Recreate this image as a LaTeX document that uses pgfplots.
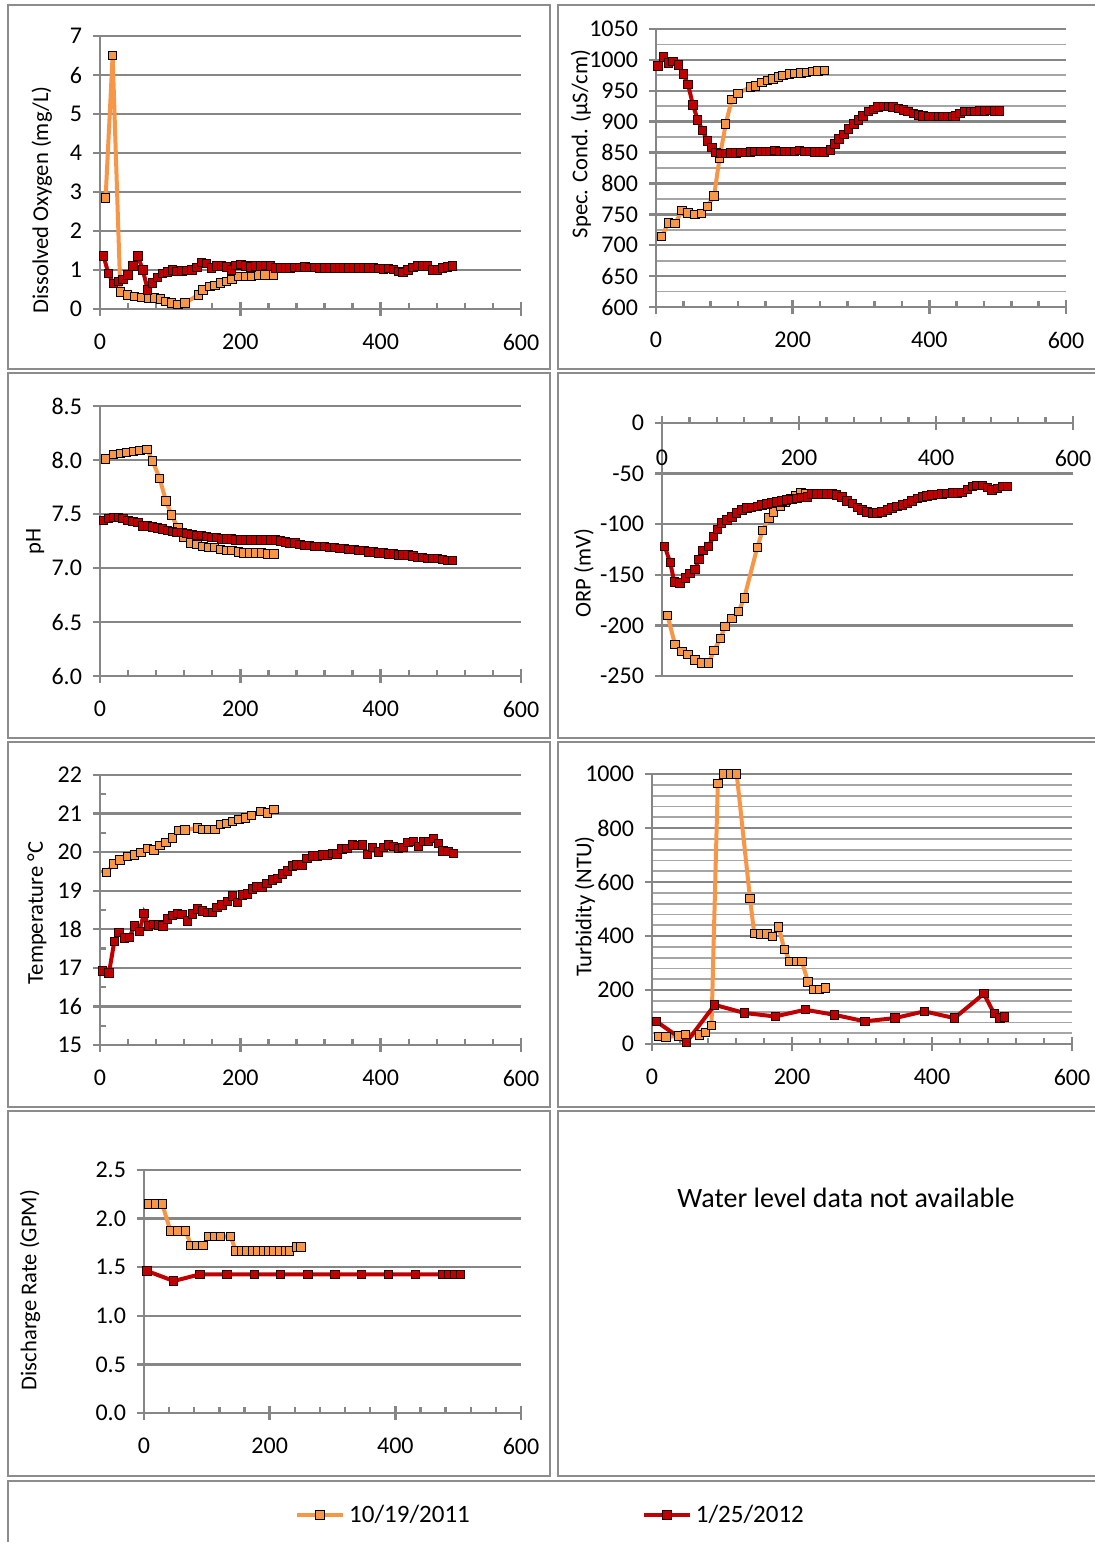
\documentclass[border=0pt]{standalone}
\usepackage{pgfplots}
\pgfplotsset{compat=1.18}
\usepackage{fontspec}
\setmainfont{Carlito}
\definecolor{orng}{RGB}{247,150,70}
\definecolor{redc}{RGB}{192,0,0}
\definecolor{axgray}{RGB}{134,134,134}
\definecolor{minorgray}{RGB}{165,165,165}
\definecolor{bordergray}{RGB}{140,140,140}
\pgfplotsset{
 panel/.style={
   scale only axis, anchor=south west, clip=false,
   xmin=0, xmax=600, xtick={0,200,400,600}, minor x tick num=4,
   axis line style={draw=axgray, line width=1.2pt},
   x axis line style={-}, y axis line style={-},
   tick style={draw=axgray, line width=1.2pt},
   major tick length=7pt, minor tick length=3pt,
   xtick align=center, ytick align=center,
   minor x tick style={yshift=1.5pt},
   minor y tick style={xshift=1.5pt},
   ymajorgrids, major grid style={draw=axgray, line width=1.2pt},
   minor grid style={draw=minorgray, line width=0.9pt},
   tick label style={font=\fontsize{12}{14}\selectfont, text=black},
   /pgf/number format/assume math mode=true,
   /pgf/number format/set thousands separator={},
   yticklabel style={xshift=-2pt},
   xticklabel style={yshift=-5.5pt},
   every axis y label/.style={rotate=90, anchor=center, font=\fontsize{11.3}{13}\selectfont},
 },
 orangeS/.style={color=orng, line width=2pt, mark=square*, mark size=2.1pt, mark options={fill=orng, draw=black, line width=0.5pt}},
 redS/.style={color=redc, line width=2pt, mark=square*, mark size=2.1pt, mark options={fill=redc, draw=black!85!red, line width=0.5pt}},
}
\begin{document}
\begin{tikzpicture}
\useasboundingbox (0,0) rectangle (547pt,-771pt);
\fill[white] (0,0) rectangle (547pt,-771pt);
\begin{scope}[draw=bordergray, line width=1.2pt]
\draw (4pt,-2.5pt) rectangle (275pt,-184.5pt);
\draw (279pt,-2.5pt) rectangle (549pt,-184.5pt);
\draw (4pt,-186.5pt) rectangle (275pt,-369pt);
\draw (279pt,-186.5pt) rectangle (549pt,-369pt);
\draw (4pt,-371pt) rectangle (275pt,-553.5pt);
\draw (279pt,-371pt) rectangle (549pt,-553.5pt);
\draw (4pt,-555.5pt) rectangle (275pt,-738pt);
\draw (279pt,-555.5pt) rectangle (549pt,-738pt);
\draw (4pt,-740.5pt) rectangle (549pt,-775pt);
\end{scope}
\node[font=\fontsize{14}{16}\selectfont] at (423pt,-599pt) {Water level data not available};

% Dissolved oxygen
\begin{axis}[panel, axis x line*=bottom, axis y line*=left, at={(50pt,-154.5pt)}, width=210.5pt, height=136.5pt,
  ymin=0, ymax=7, ytick={0,1,...,7},
  ylabel={Dissolved Oxygen (mg/L)}, ylabel style={at={(axis description cs:-0.138,0.40)}}]
\addplot[orangeS] coordinates {(8,2.85)(18,6.5)(29,0.44)(39,0.36)(49,0.32)(59,0.29)(69,0.27)(78,0.28)(86,0.26)(93,0.2)(102,0.15)(111,0.12)(121,0.15)(140,0.36)(147,0.49)(157,0.57)(164,0.61)(172,0.67)(180,0.7)(188,0.76)(197,0.83)(207,0.84)(216,0.84)(226,0.87)(235,0.87)(247,0.87)};
\addplot[redS] coordinates {(5,1.36)(12,0.91)(19,0.66)(26,0.70)(33,0.76)(40,0.87)(47,1.10)(54,1.36)(61,1.00)(68,0.49)(75,0.67)(82,0.81)(89,0.91)(96,0.95)(103,1.00)(110,0.96)(117,0.97)(124,0.98)(131,1.00)(138,1.06)(145,1.19)(152,1.17)(159,1.05)(166,1.10)(173,1.10)(180,1.08)(187,1.00)(194,1.12)(201,1.14)(208,1.10)(215,1.08)(222,1.10)(229,1.10)(236,1.12)(243,1.10)(250,1.05)(257,1.05)(264,1.05)(271,1.05)(278,1.06)(285,1.07)(292,1.08)(299,1.07)(306,1.06)(313,1.05)(320,1.05)(327,1.05)(334,1.05)(341,1.05)(348,1.05)(355,1.05)(362,1.05)(369,1.05)(376,1.05)(383,1.05)(390,1.05)(397,1.04)(404,1.03)(411,1.04)(418,1.02)(425,0.96)(432,0.93)(439,1.00)(446,1.07)(453,1.10)(460,1.10)(467,1.10)(474,1.00)(481,1.00)(488,1.05)(495,1.08)(502,1.10)};
\end{axis}

% Specific conductance
\begin{axis}[panel, axis x line*=bottom, axis y line*=left, at={(328pt,-153.5pt)}, width=205pt, height=139pt,
  ymin=600, ymax=1050, ytick={600,650,...,1050}, minor y tick num=1, yminorgrids,
  minor y tick style={draw=none},
  ylabel={Spec. Cond. (µS/cm)}, ylabel style={at={(axis description cs:-0.183,0.586)}}]
\addplot[orangeS] coordinates {(8,714)(18,736)(28,735)(38,756)(47,752)(57,750)(67,751)(75,763)(85,780)(93,841)(102,896)(111,936)(120,946)(138,956)(146,958)(155,963)(163,967)(171,969)(179,972)(186,975)(195,977)(203,978)(212,979)(220,980)(229,981)(237,982)(247,983)};
\addplot[redS] coordinates {(3,990)(11,1005)(18,995)(25,997)(33,992)(40,977)(47,960)(54,927)(61,903)(68,886)(75,869)(82,858)(88,850)(95,848)(102,848)(109,849)(117,849)(124,850)(131,850)(138,851)(145,852)(153,852)(160,852)(167,852)(174,853)(181,852)(189,852)(196,852)(203,852)(210,853)(217,852)(225,852)(232,851)(239,851)(246,851)(255,854)(262,864)(268,872)(275,879)(282,888)(290,896)(296,903)(303,909)(311,916)(318,920)(325,924)(333,925)(340,925)(347,924)(355,921)(362,919)(369,916)(377,913)(384,911)(391,909)(399,908)(406,908)(413,908)(420,908)(427,908)(434,908)(438,909)(445,913)(452,916)(460,916)(467,916)(474,917)(481,917)(488,918)(496,917)(503,917)};
\end{axis}

% pH
\begin{axis}[panel, axis x line*=bottom, axis y line*=left, at={(50pt,-338pt)}, width=210.5pt, height=135pt,
  ymin=6, ymax=8.5, ytick={6,6.5,...,8.5},
  yticklabel style={/pgf/number format/.cd, fixed, fixed zerofill, precision=1},
  ylabel={pH}, ylabel style={at={(axis description cs:-0.154,0.497)}}]
\addplot[orangeS] coordinates {(7.5,8.01)(19,8.05)(29,8.06)(37.5,8.07)(48,8.08)(57,8.09)(67,8.10)(75,7.99)(85,7.83)(94,7.62)(102,7.49)(111,7.37)(120,7.28)(129,7.23)(138,7.22)(147,7.20)(155,7.19)(163,7.19)(172,7.17)(181,7.16)(188,7.16)(197,7.15)(205,7.14)(213,7.14)(222,7.14)(230,7.14)(239,7.13)(248,7.13)};
\addplot[redS] coordinates {(5,7.44)(12,7.46)(19,7.47)(26,7.47)(33,7.46)(40,7.44)(47,7.43)(54,7.42)(61,7.39)(68,7.39)(75,7.38)(82,7.37)(89,7.36)(96,7.35)(103,7.34)(110,7.33)(117,7.33)(124,7.32)(131,7.31)(138,7.30)(145,7.30)(152,7.29)(159,7.28)(166,7.28)(173,7.27)(180,7.27)(187,7.27)(194,7.26)(201,7.26)(208,7.26)(215,7.26)(222,7.26)(229,7.26)(236,7.26)(243,7.26)(250,7.26)(257,7.25)(264,7.24)(271,7.23)(278,7.23)(285,7.22)(292,7.21)(299,7.21)(306,7.20)(313,7.20)(320,7.20)(327,7.19)(334,7.19)(341,7.18)(348,7.18)(355,7.17)(362,7.17)(369,7.16)(376,7.16)(383,7.15)(390,7.15)(397,7.14)(404,7.14)(411,7.13)(418,7.13)(425,7.12)(432,7.12)(439,7.12)(446,7.11)(453,7.10)(460,7.10)(467,7.09)(474,7.09)(481,7.09)(488,7.08)(495,7.07)(502,7.07)};
\end{axis}

% ORP
\begin{axis}[panel, axis x line*=top, axis y line*=left, xticklabel pos=upper, at={(331pt,-338pt)}, width=205.5pt, height=126.5pt,
  ymin=-250, ymax=0, ytick={-250,-200,...,0},
  xticklabel style={anchor=north, yshift=-8pt},
  ylabel={ORP (mV)}, ylabel style={at={(axis description cs:-0.19,0.407)}}]
\addplot[orangeS] coordinates {(8,-190)(19,-219)(29,-226)(38,-229)(48,-234)(58,-237)(68,-237)(76,-225)(85,-213)(92,-201)(102,-193)(112,-186)(120,-173)(139,-123)(147,-106)(156,-94)(163,-88)(173,-82)(180,-78)(188,-75)(195,-72)(203,-69)(210,-70)};
\addplot[redS] coordinates {(4,-122)(12,-138)(18,-157)(26,-158)(34,-153)(41,-149)(48,-145)(54,-135)(60,-126)(68,-122)(75,-112)(81,-105)(87,-99)(95,-96)(102,-93)(109,-89)(117,-86)(124,-84)(131,-83.5)(139,-82.7)(146,-81)(153,-80)(160,-79)(168,-78)(175,-77)(182,-76)(190,-75.5)(197,-74.5)(204,-73.6)(212,-73)(219,-70)(226,-70)(233,-70)(241,-70)(248,-70)(255,-71)(263,-73)(270,-77)(278,-79.4)(285,-83.5)(292,-86)(299,-87.8)(307,-89)(314,-89)(321,-87.8)(329,-86)(336,-84)(343,-82.7)(351,-81)(358,-79.4)(365,-77)(373,-74.5)(380,-73)(387,-72)(394,-71)(402,-70.5)(409,-70)(416,-69.5)(424,-69)(431,-69)(438,-68.5)(446,-65.5)(453,-63)(460,-62)(468,-61.5)(475,-63.5)(482,-66)(490,-64.5)(497,-63)(504,-62.5)};
\end{axis}

% Temperature
\begin{axis}[panel, axis x line*=bottom, axis y line*=left, at={(50pt,-522.5pt)}, width=210.5pt, height=135pt,
  ymin=15, ymax=22, ytick={15,16,...,22}, minor y tick num=1,
  ylabel={Temperature °C}, ylabel style={at={(axis description cs:-0.15,0.489)}}]
\addplot[orangeS] coordinates {(9.5,19.47)(19,19.69)(28.5,19.80)(39,19.88)(49,19.93)(58.4,19.99)(68,20.10)(77,20.06)(85.5,20.17)(94,20.25)(103,20.37)(111.6,20.56)(121,20.57)(139,20.63)(147,20.59)(155,20.59)(164,20.59)(172,20.72)(180.5,20.75)(189,20.79)(198,20.85)(207,20.89)(216,20.95)(229.5,21.05)(239,21.01)(248,21.11)};
\addplot[redS] coordinates {(3.3,16.92)(12.8,16.87)(20.4,17.68)(27,17.92)(34.7,17.77)(41.8,17.78)(49,18.09)(56,17.94)(62.7,18.41)(69,18.09)(76,18.13)(83,18.11)(90,18.09)(96.4,18.27)(103.6,18.35)(110.7,18.41)(117,18.39)(125,18.21)(132,18.40)(139,18.53)(146,18.47)(153,18.44)(160,18.44)(167,18.56)(174,18.63)(182,18.72)(189,18.86)(196,18.70)(203,18.89)(210,18.91)(217,19.04)(224,19.10)(231,19.10)(238,19.19)(245.6,19.28)(252.7,19.32)(260,19.43)(267,19.51)(274,19.64)(281,19.67)(288,19.67)(295,19.84)(302.6,19.90)(310,19.90)(317,19.93)(324,19.93)(331,19.97)(338,19.95)(345,20.08)(352,20.10)(360,20.19)(367,20.17)(374,20.19)(381.5,19.94)(388.6,20.12)(397,20.00)(404,20.12)(411,20.19)(418,20.14)(425,20.10)(432,20.12)(439,20.25)(446.5,20.27)(453.6,20.14)(460.7,20.27)(468,20.27)(475,20.36)(482,20.23)(489,20.03)(496,20.01)(503.5,19.97)};
\end{axis}

% Turbidity
\begin{axis}[panel, axis x line*=bottom, axis y line*=left, at={(326pt,-522pt)}, width=210pt, height=135pt,
  ymin=0, ymax=1000, ytick={0,200,...,1000}, minor y tick num=4, yminorgrids,
  minor y tick style={draw=none},
  ylabel={Turbidity (NTU)}, ylabel style={at={(axis description cs:-0.16,0.509)}}]
\addplot[orangeS] coordinates {(9,28)(20,26)(38,30)(48,35)(68,33)(76,43)(85,68)(94,965)(103,1000)(112,1000)(121,1000)(140,540)(146,410)(155,408)(164,408)(172,398)(181,433)(189,351)(197,306)(206,306)(214,306)(223,229)(231,203)(239,201)(248,207)};
\addplot[redS] coordinates {(6,84)(49,6)(89.6,145)(132,115)(176,102)(219,127)(261,108)(304,84)(347,96)(389,121)(432,96)(474,186)(489,112)(497,96)(503.5,100)};
\end{axis}

% Discharge
\begin{axis}[panel, axis x line*=bottom, axis y line*=left, at={(72pt,-706.5pt)}, width=188.5pt, height=121.5pt,
  ymin=0, ymax=2.5, ytick={0,0.5,...,2.5},
  yticklabel style={/pgf/number format/.cd, fixed, fixed zerofill, precision=1},
  ylabel={Discharge Rate (GPM)}, ylabel style={at={(axis description cs:-0.302,0.506)}},
  legend style={at={(axis description cs:1.081,-0.42)}, anchor=center, draw=none, fill=none,
    legend columns=2, font=\fontsize{12.5}{14}\selectfont,
    /tikz/every even column/.append style={column sep=84pt}},
  legend image code/.code={\draw[mark repeat=2,mark phase=2] plot coordinates {(0pt,0pt) (11.5pt,0pt) (23pt,0pt)};}]
\addplot[orangeS] coordinates {(7,2.15)(18,2.15)(29,2.15)(42,1.874)(53,1.874)(66,1.874)(75,1.726)(84,1.726)(94,1.726)(103,1.816)(113,1.816)(122,1.816)(138,1.816)(146,1.668)(155,1.668)(164,1.668)(173,1.668)(181,1.668)(190,1.668)(198,1.668)(207,1.668)(216,1.668)(225,1.668)(232,1.668)(243,1.709)(250,1.709)};
\addlegendentry{10/19/2011}
\addplot[redS] coordinates {(4.5,1.462)(47.4,1.358)(89,1.427)(132,1.427)(176,1.427)(217.7,1.427)(261,1.427)(304,1.427)(346,1.427)(389.6,1.427)(432.5,1.427)(475.5,1.427)(485.6,1.427)(495,1.427)(504,1.427)};
\addlegendentry{1/25/2012}
\end{axis}
\end{tikzpicture}
\end{document}
